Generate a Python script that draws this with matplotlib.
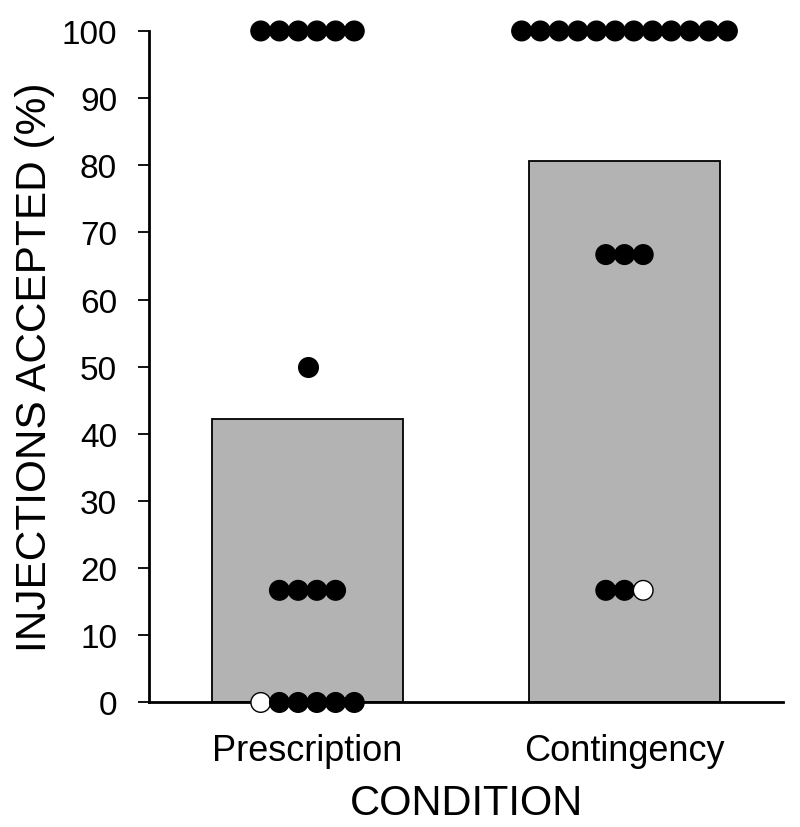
import matplotlib.pyplot as plt
import numpy as np

plt.rcParams['font.family'] = ['Liberation Sans', 'DejaVu Sans']

conditions = ['Prescription', 'Contingency']
bar_means = [42.2, 80.6]

# individual participants (% injections accepted), open marker flag per participant
presc_values = [100, 100, 100, 100, 100, 100, 50, 16.7, 16.7, 16.7, 16.7,
                0, 0, 0, 0, 0, 0]
presc_open = [0, 0, 0, 0, 0, 0, 0, 0, 0, 0, 0,
              1, 0, 0, 0, 0, 0]
conting_values = [100, 100, 100, 100, 100, 100, 100, 100, 100, 100, 100, 100,
                  66.7, 66.7, 66.7, 16.7, 16.7, 16.7]
conting_open = [0, 0, 0, 0, 0, 0, 0, 0, 0, 0, 0, 0,
                0, 0, 0, 0, 0, 1]

yticks = [0, 10, 20, 30, 40, 50, 60, 70, 80, 90, 100]

fig = plt.figure(figsize=(8, 8.28), dpi=100)
ax = fig.add_axes([0.18625, 0.1504, 0.7925, 0.811])

xpos = np.arange(len(conditions))
ax.bar(xpos, bar_means, width=0.6, color='#b3b3b3', edgecolor='black',
       linewidth=1.3, zorder=2)

spacing = 0.059
for x0, vals, opens in zip(xpos, [presc_values, conting_values], [presc_open, conting_open]):
    vals = np.array(vals)
    opens = np.array(opens)
    for v in list(dict.fromkeys(vals.tolist())):
        idx = np.where(vals == v)[0]
        n = len(idx)
        xs = x0 + (np.arange(n) - (n - 1) / 2) * spacing
        fc = ['white' if opens[i] else 'black' for i in idx]
        ax.scatter(xs, [v] * n, s=200, c=fc, edgecolors='black', linewidths=1.0,
                   zorder=5, clip_on=False)

ax.set_xlim(-0.5, 1.5)
ax.set_ylim(0, 100)
ax.set_yticks(yticks)
ax.set_xticks(xpos)
ax.set_xticklabels(conditions)
ax.tick_params(axis='y', direction='out', length=8, width=1.3, labelsize=24, pad=15)
ax.tick_params(axis='x', length=0, labelsize=26, pad=22)

for s in ['top', 'right']:
    ax.spines[s].set_visible(False)
for s in ['left', 'bottom']:
    ax.spines[s].set_linewidth(2)

ax.set_ylabel('INJECTIONS ACCEPTED (%)', fontsize=30.5, labelpad=5)
ax.set_xlabel('CONDITION', fontsize=30, labelpad=11)

fig.savefig('out.png', dpi=100)
